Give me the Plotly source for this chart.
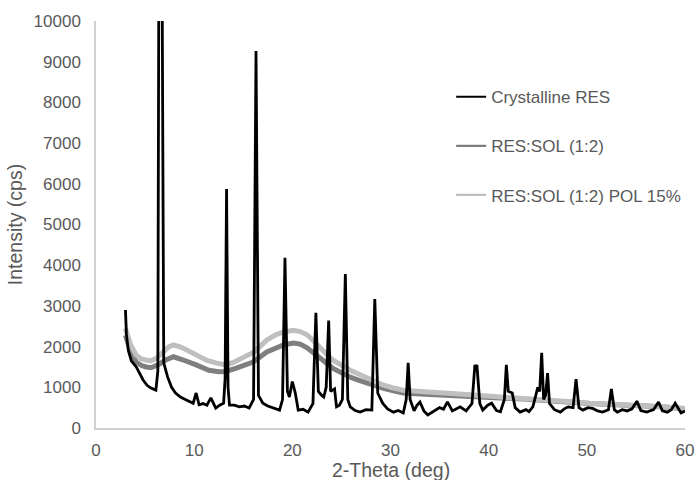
import plotly.graph_objects as go

# Crystalline RES (2-theta, intensity)
cr_x = [3.0, 3.1, 3.3, 3.6, 4.1, 4.5, 4.8, 5.2, 5.6, 6.1, 6.3, 6.42, 6.55, 6.7, 6.9, 7.3, 7.7, 8.1, 8.6, 9.2, 9.9, 10.2, 10.5,
        10.9, 11.3, 11.7, 12.2, 12.6, 13.0, 13.15, 13.3, 13.45, 13.6, 14.1, 14.6, 15.1, 15.6, 16.05, 16.3, 16.55, 17.0, 17.5, 18.0, 18.7,
        19.0, 19.25, 19.5, 19.7, 20.0, 20.3, 20.6, 21.1, 21.6, 22.1, 22.4, 22.65, 23.0, 23.2, 23.45, 23.7, 23.9,
        24.1, 24.3, 24.5, 24.8, 25.1, 25.4, 25.65, 25.9, 26.4, 26.9, 27.5, 28.1, 28.4, 28.7, 29.2, 29.7, 30.3, 30.8, 31.3, 31.6,
        31.8, 32.0, 32.4, 32.7, 33.0, 33.4, 33.8, 34.2, 34.5, 35.0, 35.4, 35.8, 36.3, 36.7, 37.1, 37.7, 38.3, 38.6, 38.7, 38.8,
        39.1, 39.4, 39.9, 40.3, 40.8, 41.2, 41.6, 41.8, 42.0, 42.4, 42.7, 43.2, 43.8, 44.1, 44.5, 44.8, 45.0, 45.2,
        45.4, 45.6, 45.8, 46.0, 46.2, 46.7, 47.3, 47.7, 48.1, 48.6, 48.9, 49.2, 49.6, 50.1, 50.6, 51.1, 51.6, 52.2, 52.5,
        52.8, 53.1, 53.6, 54.1, 54.6, 55.1, 55.5, 56.1, 56.8, 57.3, 57.7, 58.2, 58.6, 59.0, 59.6, 60.0]
cr_y = [2900, 2300, 1900, 1650, 1500, 1330, 1180, 1050, 980, 930, 1400, 13000, 12500, 13000, 1600, 1250, 1000, 860, 760, 690, 610, 860, 570,
        600, 560, 740, 490, 560, 610, 1200, 5870, 1000, 560, 560, 520, 540, 490, 700, 9260, 800, 610, 540, 500, 440,
        700, 4180, 900, 760, 1140, 860, 440, 460, 390, 600, 2830, 900, 800, 760, 1000, 2640, 900,
        930, 960, 520, 560, 700, 3780, 700, 520, 430, 390, 450, 440, 3170, 860, 610, 470, 390, 430, 370, 700,
        1600, 700, 420, 560, 640, 420, 320, 380, 420, 500, 460, 640, 420, 470, 520, 420, 600, 1550, 1450, 1550,
        600, 440, 560, 610, 430, 400, 700, 1550, 900, 860, 500, 390, 450, 400, 520, 800, 1000, 900,
        1850, 700, 800, 1350, 600, 450, 390, 470, 520, 500, 1200, 500, 440, 500, 480, 420, 390, 450, 960,
        450, 390, 450, 420, 470, 660, 430, 390, 450, 640, 420, 390, 450, 610, 370, 420]

# RES:SOL (1:2)
rs_x = [3.0, 3.5, 4.1, 4.6, 5.1, 5.6, 6.3, 7.1, 7.9, 8.5, 8.9, 10.2, 11.5, 12.5, 13.2, 14.3, 16.0, 17.4,
        18.3, 19.1, 20.1, 20.8, 21.5, 22.2, 22.8, 23.5, 24.1, 25.0, 25.9, 26.8, 27.6, 28.4, 29.2, 30.2,
        31.3, 33.5, 36.0, 38.5, 41.2, 43.5, 46.2, 48.0, 50.3, 52.5, 55.4, 57.5, 60.0]
rs_y = [2280, 1900, 1620, 1540, 1500, 1480, 1550, 1670, 1750, 1720, 1670, 1550, 1420, 1380, 1390, 1470, 1620, 1870,
        1970, 2040, 2090, 2060, 1970, 1850, 1720, 1590, 1470, 1350, 1250, 1170, 1100, 1040, 980, 920,
        860, 830, 810, 770, 740, 710, 680, 640, 600, 580, 550, 520, 470]

# RES:SOL (1:2) POL 15%
rp_x = [3.0, 3.5, 4.1, 4.6, 5.1, 5.6, 6.2, 6.8, 7.4, 7.9, 8.5, 9.2, 10.5, 11.3, 12.2, 13.2, 14.0, 15.0, 16.1,
        17.4, 18.3, 19.1, 20.1, 20.8, 21.5, 22.2, 22.8, 23.5, 24.1, 25.0, 25.9, 26.8, 27.6, 28.4, 29.2,
        30.2, 31.3, 33.5, 36.0, 38.5, 41.2, 43.5, 46.2, 48.0, 50.3, 52.5, 55.4, 57.5, 60.0]
rp_y = [2450, 2050, 1790, 1700, 1670, 1650, 1720, 1870, 1990, 2040, 2000, 1920, 1750, 1660, 1600, 1550, 1610, 1720, 1870,
        2160, 2290, 2360, 2400, 2370, 2290, 2130, 1970, 1810, 1670, 1540, 1420, 1320, 1230, 1140, 1060,
        990, 930, 890, 860, 810, 760, 730, 690, 650, 610, 590, 560, 530, 480]

names = ["Crystalline RES", "RES:SOL (1:2)", "RES:SOL (1:2) POL 15%"]
colors = ["#000000", "#7f7f7f", "#bfbfbf"]
x_title = "2-Theta (deg)"
y_title = "Intensity (cps)"
x_ticks = [0, 10, 20, 30, 40, 50, 60]
y_ticks = list(range(0, 10001, 1000))
y_tick_text = [str(v) for v in y_ticks]

fig = go.Figure()
# data traces (drawn: gray bands beneath the crystalline pattern)
fig.add_trace(go.Scatter(x=rs_x, y=rs_y, mode="lines", name=names[1], showlegend=False,
                         line=dict(color=colors[1], width=5)))
fig.add_trace(go.Scatter(x=rp_x, y=rp_y, mode="lines", name=names[2], showlegend=False,
                         line=dict(color=colors[2], width=5)))
fig.add_trace(go.Scatter(x=cr_x, y=cr_y, mode="lines", name=names[0], showlegend=False,
                         line=dict(color=colors[0], width=2.8)))
# legend entries with thin sample lines
for i, (nm, col) in enumerate(zip(names, colors)):
    fig.add_trace(go.Scatter(x=[None], y=[None], mode="lines", name=nm, legendgroup="g%d" % i,
                             legendrank=i + 1, line=dict(color=col, width=2.2)))

font_col = "#595959"
fig.update_layout(
    width=697, height=480,
    margin=dict(l=96, r=12, t=21, b=52, autoexpand=False),
    plot_bgcolor="white", paper_bgcolor="white",
    font=dict(family="Liberation Sans, Arial, sans-serif", size=17, color=font_col),
    legend=dict(x=0.603, y=0.857, xanchor="left", yanchor="top", tracegroupgap=24,
                bgcolor="rgba(0,0,0,0)", font=dict(size=17, color=font_col)),
    xaxis=dict(range=[0, 60], tickvals=x_ticks, showgrid=False, zeroline=False, automargin=False,
               showline=True, linecolor="#d0d0d0", linewidth=1.5, ticks="",
               ticklabelstandoff=6),
    yaxis=dict(range=[0, 10000], tickvals=y_ticks, ticktext=y_tick_text, showgrid=False, zeroline=False,
               automargin=False, showline=True, linecolor="#d0d0d0", linewidth=1.5, ticks="",
               ticklabelstandoff=10,
               title=dict(text=y_title, standoff=6, font=dict(size=19.5, color=font_col))),
    annotations=[dict(text=x_title, xref="paper", yref="paper", x=0.5, y=-0.104,
                      xanchor="center", yanchor="middle", showarrow=False,
                      font=dict(size=19.5, color=font_col))],
)

fig.write_html("out.html")
